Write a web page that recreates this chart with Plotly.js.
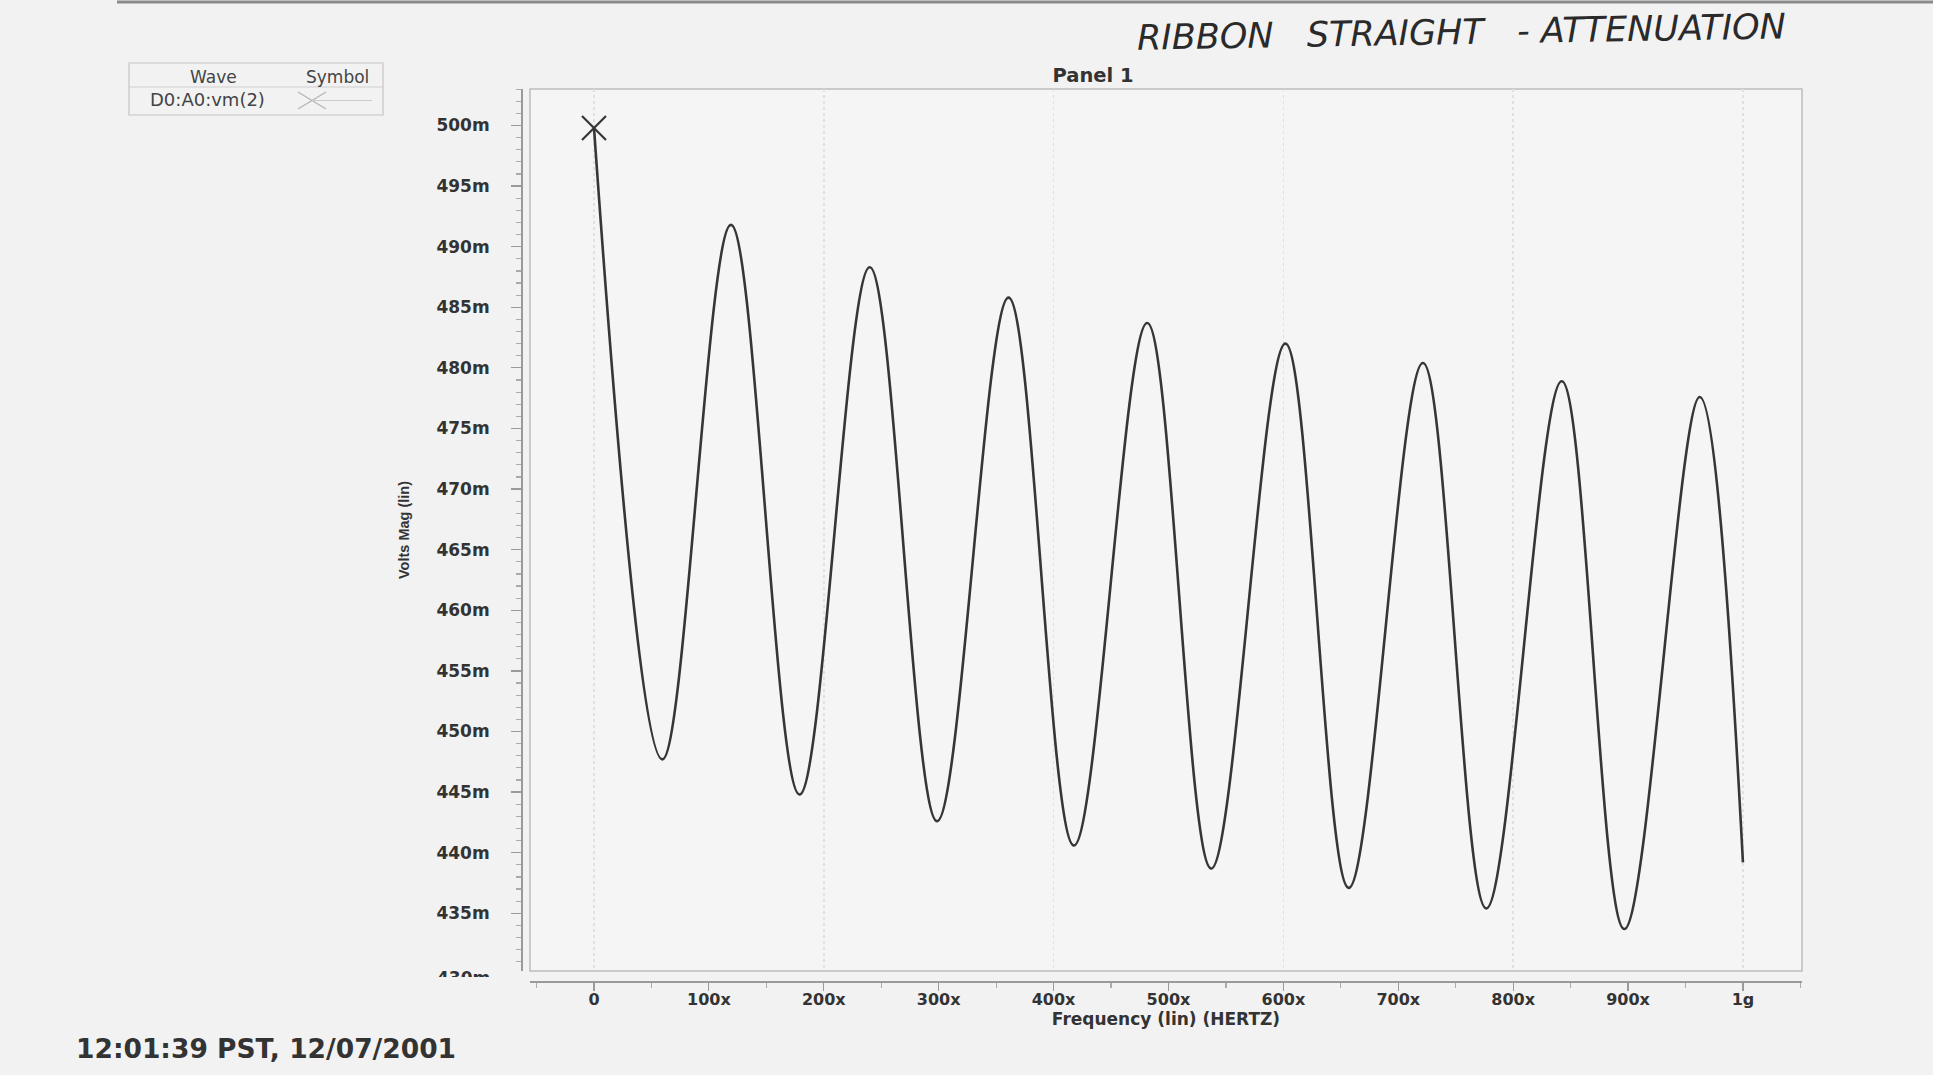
<!DOCTYPE html>
<html>
<head>
<meta charset="utf-8">
<script src="https://cdn.plot.ly/plotly-3.0.1.min.js"></script>
<style>
html, body { margin: 0; padding: 0; background: #f2f2f2; }
#chart { width: 1933px; height: 1075px; }
</style>
</head>
<body>
<div id="chart"></div>
<script>
// ---- data (start, alternating troughs / peaks, end) ----
const freqHz = [
  0, 59.5e6, 119.2e6, 178.9e6, 240.0e6, 298.6e6, 360.8e6, 417.7e6, 481.5e6,
  537.2e6, 601.8e6, 656.9e6, 721.5e6, 776.6e6, 842.3e6, 896.7e6, 962.4e6, 1000e6
];
const voltsMag = [
  0.4998, 0.4477, 0.4918, 0.4448, 0.4883, 0.4426, 0.4858, 0.4406, 0.4837,
  0.4387, 0.4820, 0.4371, 0.4804, 0.4354, 0.4789, 0.4337, 0.4776, 0.4392
];
const xTickVals = [0, 1e8, 2e8, 3e8, 4e8, 5e8, 6e8, 7e8, 8e8, 9e8, 1e9];
const xTickText = ['0', '100x', '200x', '300x', '400x', '500x', '600x', '700x', '800x', '900x', '1g'];
const xGridVals = [0, 2e8, 4e8, 6e8, 8e8, 1e9];
const yTickVals = [0.435, 0.44, 0.445, 0.45, 0.455, 0.46, 0.465, 0.47, 0.475, 0.48, 0.485, 0.49, 0.495, 0.5];
const yTickText = ['435m', '440m', '445m', '450m', '455m', '460m', '465m', '470m', '475m', '480m', '485m', '490m', '495m', '500m'];
const waveName = 'D0:A0:vm(2)';
const chartTitle = 'Panel 1';
const noteText = 'RIBBON\u00A0\u00A0\u00A0STRAIGHT\u00A0\u00A0\u00A0-\u00A0ATTENUATION';
const stampText = '12:01:39 PST, 12/07/2001';
const xTitle = 'Frequency (lin) (HERTZ)';
const yTitle = 'Volts Mag (lin)';

// ---- page geometry (pixels -> paper fractions) ----
const L = 521, R = 1802, T = 89, B = 981;
const px = p => (p - L) / (R - L);
const py = p => (B - p) / (B - T);

const ink = '#333333';
const boldFont = (size) => ({ family: 'DejaVu Sans', size: size, color: ink, weight: 'bold' });

const traces = [
  {
    type: 'scatter', mode: 'lines', name: waveName,
    x: freqHz, y: voltsMag,
    line: { color: '#363636', width: 2.6, shape: 'spline', smoothing: 1.0 },
    hoverinfo: 'skip'
  },
  {
    type: 'scatter', mode: 'markers', name: waveName,
    x: [freqHz[0]], y: [voltsMag[0]],
    marker: { symbol: 'x-thin-open', size: 24, color: '#363636', line: { color: '#363636', width: 2.2 } },
    hoverinfo: 'skip'
  },
  { type: 'scatter', mode: 'lines', x: [], y: [], xaxis: 'x2', yaxis: 'y', hoverinfo: 'skip' }
];

const legendGray = '#b5b5b5';
const shapes = [
  // plot frame
  { type: 'rect', xref: 'paper', yref: 'paper', x0: px(530), x1: 1, y0: py(971), y1: 1,
    line: { color: '#bdbdbd', width: 1.5 }, layer: 'below' },
  // top scan line
  { type: 'line', xref: 'paper', yref: 'paper', x0: px(117), x1: px(1933), y0: py(2), y1: py(2),
    line: { color: '#8a8a8a', width: 3 } },
  // legend box
  { type: 'rect', xref: 'paper', yref: 'paper', x0: px(129), x1: px(383), y0: py(115), y1: py(63),
    line: { color: '#c4c4c4', width: 1.2 } },
  { type: 'line', xref: 'paper', yref: 'paper', x0: px(129), x1: px(383), y0: py(87), y1: py(87),
    line: { color: '#cfcfcf', width: 1 } },
  // legend symbol: X and line
  { type: 'line', xref: 'paper', yref: 'paper', x0: px(298), x1: px(326), y0: py(92), y1: py(109),
    line: { color: legendGray, width: 1.4 } },
  { type: 'line', xref: 'paper', yref: 'paper', x0: px(298), x1: px(326), y0: py(109), y1: py(92),
    line: { color: legendGray, width: 1.4 } },
  { type: 'line', xref: 'paper', yref: 'paper', x0: px(312), x1: px(372), y0: py(100.5), y1: py(100.5),
    line: { color: '#cccccc', width: 1 } }
];

const annotations = [
  { text: noteText, xref: 'paper', yref: 'paper', x: px(1461), y: py(32), xanchor: 'center', yanchor: 'middle',
    showarrow: false, textangle: -1, font: { family: 'DejaVu Sans', size: 35, color: '#2a2a2a', style: 'italic', weight: 300 } },
  { text: stampText, xref: 'paper', yref: 'paper', x: px(74), y: py(1048), xanchor: 'left', yanchor: 'middle',
    showarrow: false, font: boldFont(26.5) },
  { text: 'Wave', xref: 'paper', yref: 'paper', x: px(213), y: py(77), xanchor: 'center', yanchor: 'middle',
    showarrow: false, font: { family: 'DejaVu Sans', size: 17, color: '#444' } },
  { text: 'Symbol', xref: 'paper', yref: 'paper', x: px(337), y: py(77), xanchor: 'center', yanchor: 'middle',
    showarrow: false, font: { family: 'DejaVu Sans', size: 17, color: '#444' } },
  { text: waveName, xref: 'paper', yref: 'paper', x: px(207), y: py(100), xanchor: 'center', yanchor: 'middle',
    showarrow: false, font: { family: 'DejaVu Sans', size: 18, color: '#444' } },
  // bottom label, half hidden as in the print
  { text: '430m', xref: 'paper', yref: 'paper', x: px(492), y: py(966), xanchor: 'right', yanchor: 'top',
    showarrow: false, height: 9, valign: 'top', font: boldFont(17) }
];

const layout = {
  width: 1933, height: 1075,
  margin: { l: L, r: 1933 - R, t: T, b: 1075 - B, pad: 0 },
  paper_bgcolor: '#f2f2f2',
  plot_bgcolor: '#f5f5f5',
  showlegend: false,
  font: { family: 'DejaVu Sans', color: ink },
  title: { text: chartTitle, font: boldFont(19.5), xref: 'paper', x: px(1093), xanchor: 'center',
           yref: 'container', y: 1 - 75 / 1075, yanchor: 'middle' },
  xaxis: {
    domain: [px(530), 1], anchor: 'free', position: 0,
    range: [-55.7e6, 1051.4e6],
    tickmode: 'array', tickvals: xTickVals, ticktext: xTickText,
    ticks: 'outside', ticklen: 8, tickwidth: 1.2, tickcolor: '#9a9a9a',
    showline: true, linecolor: '#9a9a9a', linewidth: 1.5,
    showgrid: false, zeroline: false,
    tickfont: boldFont(16), ticklabelstandoff: -5,
    minor: { tickmode: 'linear', tick0: 0, dtick: 5e7, ticks: 'outside', ticklen: 5, tickcolor: '#aaaaaa', showgrid: false },
    title: { text: xTitle, font: boldFont(17), standoff: 0 }
  },
  xaxis2: {
    overlaying: 'x', matches: 'x', range: [-55.7e6, 1051.4e6],
    tickmode: 'array', tickvals: xGridVals, showticklabels: false, ticks: '',
    showgrid: true, gridcolor: '#e0e0e0', griddash: 'dot', gridwidth: 1.5,
    showline: false, zeroline: false
  },
  yaxis: {
    domain: [py(971), 1], anchor: 'free', position: 0,
    range: [0.43024, 0.50301],
    tickmode: 'array', tickvals: yTickVals, ticktext: yTickText,
    ticks: 'outside', ticklen: 10, tickwidth: 1.2, tickcolor: '#9a9a9a',
    showline: true, linecolor: '#9a9a9a', linewidth: 1.5,
    showgrid: false, zeroline: false,
    tickfont: boldFont(17), ticklabelstandoff: 18,
    minor: { tickmode: 'linear', tick0: 0, dtick: 0.001, ticks: 'outside', ticklen: 5, tickcolor: '#aaaaaa', showgrid: false },
    title: { text: yTitle, font: { family: 'Liberation Sans', size: 14.5, color: ink, weight: 'bold' }, standoff: 22 }
  },
  shapes: shapes,
  annotations: annotations
};

Plotly.newPlot('chart', traces, layout, { staticPlot: true, displayModeBar: false });
</script>
</body>
</html>
